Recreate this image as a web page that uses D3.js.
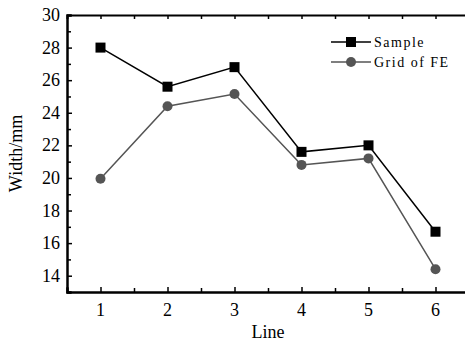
<html>
<head>
<style>
  body { margin: 0; background: #fff; }
  text { font-family: "Liberation Serif", "Times New Roman", serif; fill: #000; }
</style>
</head>
<body>
<svg id="chart" width="465" height="342"></svg>
<script src="https://cdnjs.cloudflare.com/ajax/libs/d3/7.8.5/d3.min.js"></script>
<script>
  // DATA
  var lines = [1, 2, 3, 4, 5, 6];
  var sample = [28.0, 25.6, 26.8, 21.6, 22.0, 16.7];
  var gridFE = [19.95, 24.4, 25.15, 20.8, 21.2, 14.4];
  var yTicks = [14, 16, 18, 20, 22, 24, 26, 28, 30];
  var seriesNames = ["Sample", "Grid of FE"];

  var svg = d3.select("#chart");
  var mLeft = 67, mTop = 15, mBottom = 292, mRight = 469;

  var x = d3.scaleLinear().domain([0.5, 6.5]).range([mLeft, mRight]);
  var y = d3.scaleLinear().domain([13, 30]).range([mBottom, mTop]);

  // frame axes (ticks inward)
  var xMinor = d3.range(1.5, 6.5, 1);
  var yMinor = d3.range(13, 30, 2);

  svg.append("g").attr("transform", "translate(0," + mBottom + ")")
    .call(d3.axisTop(x).tickValues(lines).tickSize(5).tickFormat(""));
  svg.append("g").attr("transform", "translate(0," + mBottom + ")")
    .call(d3.axisTop(x).tickValues(xMinor).tickSize(4).tickFormat(""));
  svg.append("g").attr("transform", "translate(0," + mTop + ")")
    .call(d3.axisBottom(x).tickValues(lines.concat(xMinor)).tickSize(4).tickFormat(""));
  svg.append("g").attr("transform", "translate(" + mLeft + ",0)")
    .call(d3.axisRight(y).tickValues(yTicks).tickSize(5).tickFormat(""));
  svg.append("g").attr("transform", "translate(" + mLeft + ",0)")
    .call(d3.axisRight(y).tickValues(yMinor).tickSize(4).tickFormat(""));

  svg.selectAll(".domain").attr("stroke-width", 2);
  svg.selectAll(".tick line").attr("stroke-width", 1.5);

  // tick labels
  svg.append("g").selectAll("text").data(yTicks).enter().append("text")
    .attr("x", mLeft - 7).attr("y", function(d) { return y(d) + 6; })
    .attr("text-anchor", "end").style("font-size", "18px")
    .text(function(d) { return d; });
  svg.append("g").selectAll("text").data(lines).enter().append("text")
    .attr("x", function(d) { return x(d); }).attr("y", 316)
    .attr("text-anchor", "middle").style("font-size", "18px")
    .text(function(d) { return d; });

  // axis titles
  svg.append("text").attr("x", x(3.5)).attr("y", 338)
    .attr("text-anchor", "middle").style("font-size", "18px").text("Line");
  svg.append("text")
    .attr("transform", "translate(22," + y(21.5) + ") rotate(-90)")
    .attr("text-anchor", "middle").style("font-size", "18px").text("Width/mm");

  var line = d3.line()
    .x(function(d, i) { return x(lines[i]); })
    .y(function(d) { return y(d); });

  // Grid of FE series
  svg.append("path").datum(gridFE).attr("d", line)
    .attr("fill", "none").attr("stroke", "#555").attr("stroke-width", 1.5);
  svg.append("g").selectAll("circle").data(gridFE).enter().append("circle")
    .attr("cx", function(d, i) { return x(lines[i]); })
    .attr("cy", function(d) { return y(d); })
    .attr("r", 5).attr("fill", "#555");

  // Sample series
  svg.append("path").datum(sample).attr("d", line)
    .attr("fill", "none").attr("stroke", "#000").attr("stroke-width", 1.5);
  svg.append("g").selectAll("rect").data(sample).enter().append("rect")
    .attr("x", function(d, i) { return x(lines[i]) - 5; })
    .attr("y", function(d) { return y(d) - 5; })
    .attr("width", 10).attr("height", 10).attr("fill", "#000");

  // legend
  var leg = svg.append("g");
  var legY = [42, 62];
  var legCol = ["#000", "#555"];
  leg.selectAll("line").data(seriesNames).enter().append("line")
    .attr("x1", 331).attr("x2", 371)
    .attr("y1", function(d, i) { return legY[i]; })
    .attr("y2", function(d, i) { return legY[i]; })
    .attr("stroke", function(d, i) { return legCol[i]; }).attr("stroke-width", 1.5);
  leg.append("rect").attr("x", 346).attr("y", legY[0] - 5)
    .attr("width", 10).attr("height", 10).attr("fill", "#000");
  leg.append("circle").attr("cx", 351).attr("cy", legY[1]).attr("r", 5).attr("fill", "#555");
  leg.selectAll("text").data(seriesNames).enter().append("text")
    .attr("x", 374).attr("y", function(d, i) { return legY[i] + 5; })
    .style("font-size", "14px").style("letter-spacing", "1.5px")
    .text(function(d) { return d; });
</script>
</body>
</html>
